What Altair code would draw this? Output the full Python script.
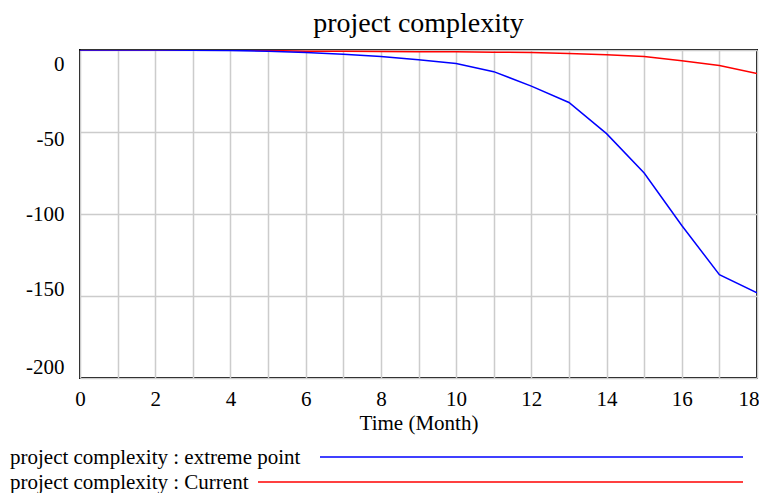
import altair as alt
import pandas as pd

months = list(range(0, 19))
extreme_point = [0, 0, 0, -0.1, -0.3, -0.7, -1.5, -2.6, -4.0, -6.0, -8.2,
                 -13.2, -22, -32, -51, -75, -107, -137, -148]
current = [0, 0, 0, 0, 0, -0.3, -0.7, -0.8, -0.9, -1.0, -1.1,
           -1.3, -1.6, -2.2, -2.9, -4.0, -6.5, -9.5, -14.4]

y_ticks = [0, -50, -100, -150, -200]

legend_labels = ["project complexity : extreme point", "project complexity : Current"]
legend_colors = ["#0000ff", "#ff0000"]

df = pd.DataFrame({"month": months, "extreme": extreme_point, "current": current})

FONT = "Liberation Serif"
W, H = 677, 328

x_enc = alt.X(
    "month:Q",
    scale=alt.Scale(domain=[0, 18], nice=False, zero=False),
    axis=alt.Axis(
        values=months,
        labelExpr="datum.value % 2 == 0 ? datum.label : ''",
        title="Time (Month)",
        labelPadding=10,
        titlePadding=3,
        labelFlush=False,
        labelAlign={"condition": {"test": "datum.value == 18", "value": "right"}, "value": "center"},
        labelOffset={"condition": {"test": "datum.value == 18", "value": 2}, "value": 0},
    ),
)
y_axis = alt.Axis(
    values=y_ticks, title=None, labelPadding=16,
    labelExpr="'' + datum.value",
    labelOffset={
        "condition": [
            {"test": "datum.value == 0", "value": 14},
            {"test": "datum.value == -50", "value": 7},
            {"test": "datum.value == -150", "value": -7},
            {"test": "datum.value == -200", "value": -11},
        ],
        "value": 0,
    },
)
y_scale = alt.Scale(domain=[-200, 0], nice=False)

red = alt.Chart(df).mark_line(color="#ff0000", strokeWidth=1.5, clip=True).encode(
    x=x_enc, y=alt.Y("current:Q", scale=y_scale, axis=y_axis)
)
blue = alt.Chart(df).mark_line(color="#0000ff", strokeWidth=1.5, clip=True).encode(
    x=x_enc, y=alt.Y("extreme:Q", scale=y_scale, axis=y_axis)
)

legend_layers = []
text_y = [408, 433]
line_x1 = [240, 178]
for lbl, col, ty, lx in zip(legend_labels, legend_colors, text_y, line_x1):
    ldf = pd.DataFrame({"label": [lbl]})
    legend_layers.append(
        alt.Chart(ldf).mark_text(font=FONT, fontSize=21, align="left", baseline="middle", color="black")
        .encode(text="label:N", x=alt.value(-70), y=alt.value(ty))
    )
    legend_layers.append(
        alt.Chart(ldf).mark_rule(color=col, strokeWidth=1.5)
        .encode(x=alt.value(lx), x2=alt.value(663), y=alt.value(ty - 1))
    )

chart = alt.layer(red, blue, *legend_layers).properties(
    width=W,
    height=H,
    title=alt.TitleParams("project complexity", font=FONT, fontSize=28, fontWeight="normal",
                          color="black", anchor="middle", offset=12),
    autosize=alt.AutoSizeParams(type="none"),
    padding={"left": 72, "top": 42, "right": 2, "bottom": 115},
).configure_axis(
    labelFont=FONT, labelFontSize=21, labelColor="black",
    titleFont=FONT, titleFontSize=21, titleColor="black", titleFontWeight="normal",
    domain=False, ticks=False,
    gridColor="#cccccc", gridWidth=1.5, gridOpacity=1,
).configure_view(stroke="black", strokeWidth=2)

chart.save("out.html", embed_options={"renderer": "svg", "actions": False})
